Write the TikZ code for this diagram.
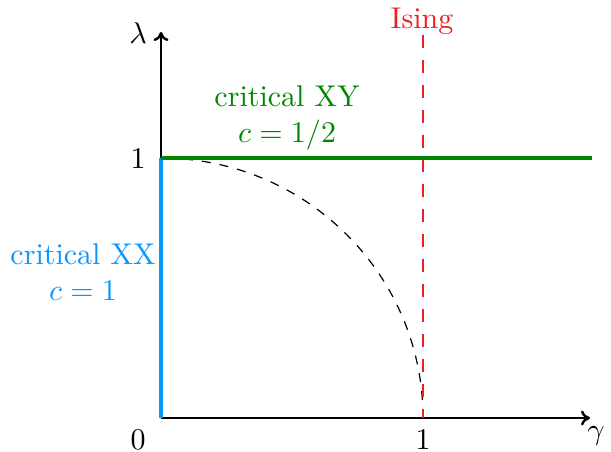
\documentclass[tikz,border=0pt]{standalone}
\usetikzlibrary{arrows.meta}
\definecolor{xxblue}{RGB}{10,150,255}
\definecolor{xygreen}{RGB}{0,135,0}
\definecolor{isred}{RGB}{240,30,30}
\begin{document}
\begin{tikzpicture}[x=0.3333pt,y=-0.3333pt,
  axis/.style={thick,-{To[length=3pt,width=5pt]}},
  lbl/.style={inner sep=0pt,align=center}]
\useasboundingbox (0,0) rectangle (611,451);
\coordinate (O) at (161,418);
\coordinate (Xend) at (590,418);
\coordinate (Yend) at (161,32);
\coordinate (Y1) at (161,158);
\coordinate (Gend) at (592,158);
\coordinate (X1) at (423,418);
\coordinate (Itop) at (423,35);
% axes
\draw[axis] (O) -- (Xend);
\draw[axis] (O) -- (Yend);
% quarter circle
\draw[dashed,line width=0.4pt] (X1) arc[start angle=0,end angle=-90,x radius=262,y radius=260];
% Ising line
\draw[isred,line width=0.65pt,dash pattern=on 4.3pt off 4pt] (Itop) -- (X1);
% critical lines
\draw[xxblue,line width=1.3pt] (O) -- (Y1);
\draw[xygreen,line width=1.3pt] (Y1) -- (Gend);
% labels
\node[lbl] (lam) at (138,33) {$\lambda$};
\node[lbl] (gam) at (596,436) {$\gamma$};
\node[lbl] (zero) at (138,440) {0};
\node[lbl] (onex) at (423,439) {1};
\node[lbl] (oney) at (138,158) {1};
\node[lbl,text=isred] (ising) at (422,21) {Ising};
\node[lbl,text=xygreen] (xy) at (287,118) {critical XY\\$c=1/2$};
\node[lbl,text=xxblue] (xx) at (83,272) {critical XX\\$c=1$};
\end{tikzpicture}
\end{document}
